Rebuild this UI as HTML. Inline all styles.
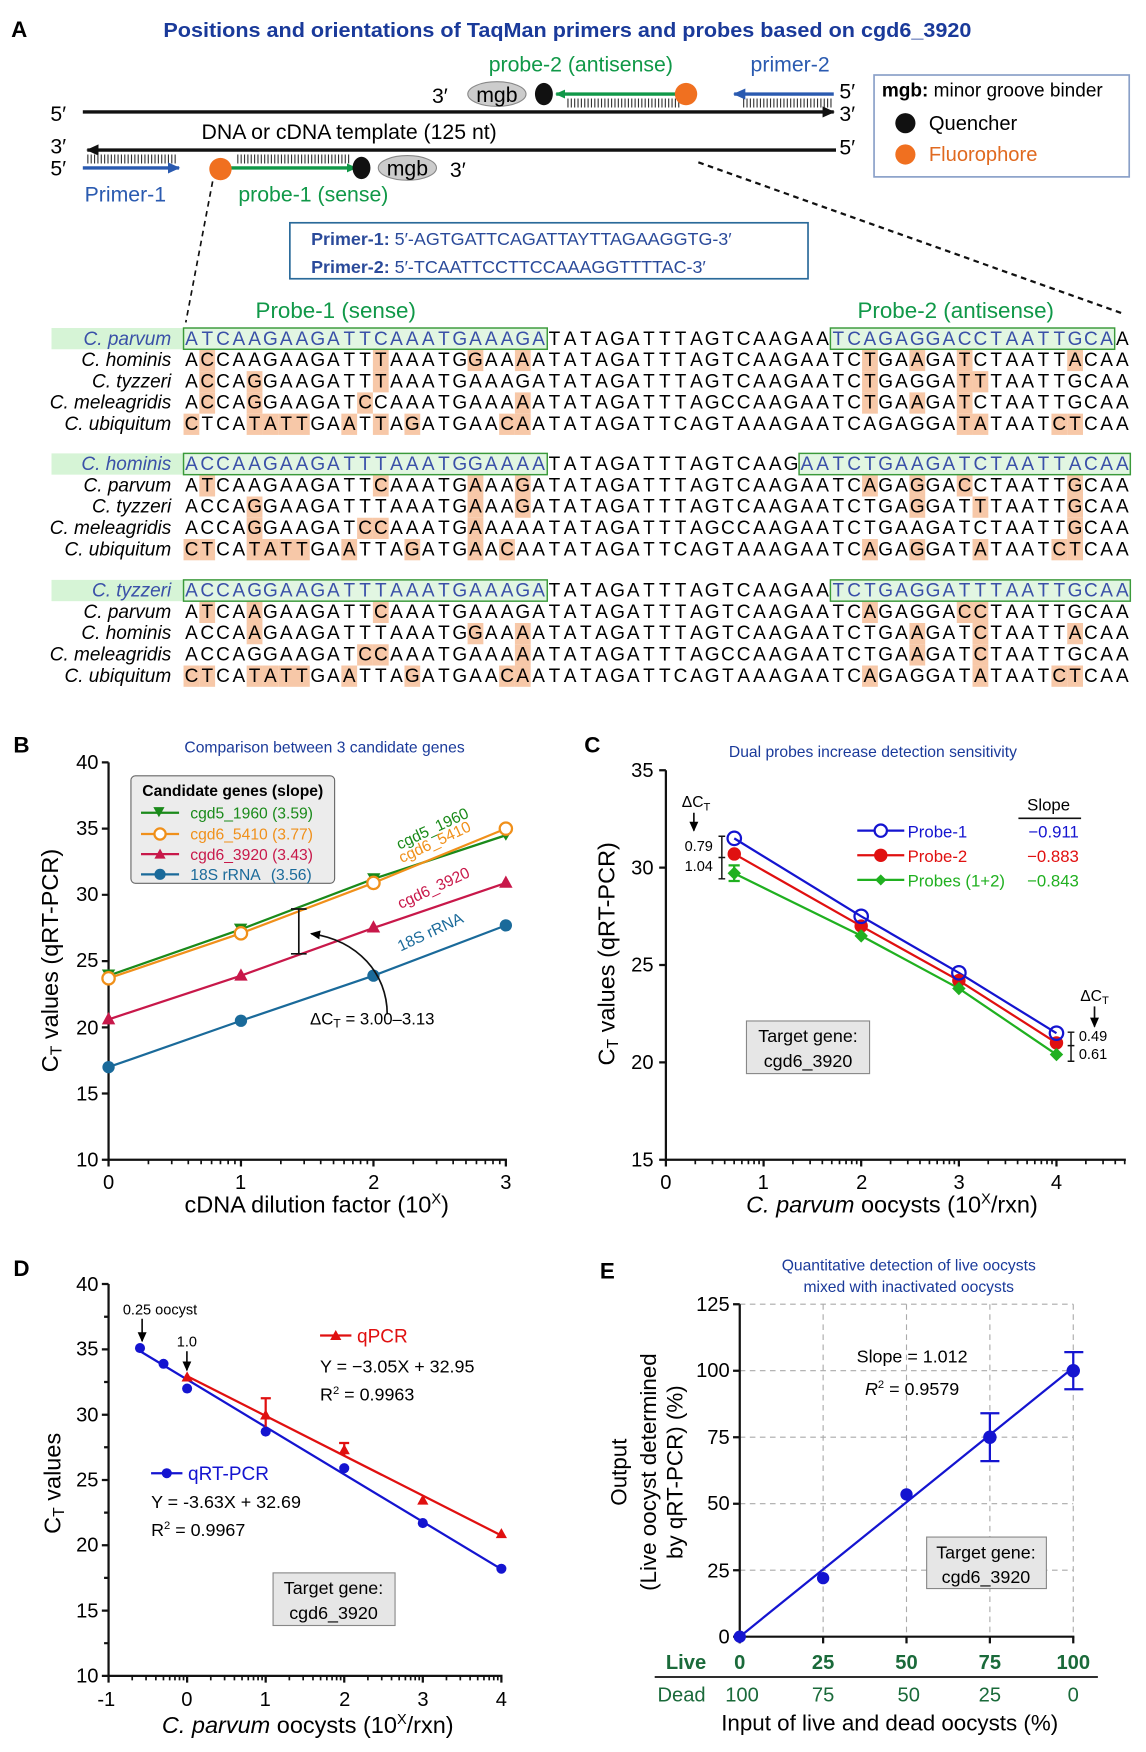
<!DOCTYPE html>
<html><head><meta charset="utf-8"><style>
html,body{margin:0;padding:0;background:#fff}
svg{display:block}
text{font-family:"Liberation Sans",sans-serif}
.seq{font-size:17px;text-anchor:middle}
.sp{font-size:17px;font-style:italic;text-anchor:end}
.tk{font-size:18px}
</style></head><body>
<svg id="s" width="1146" height="1752" viewBox="0 0 1024 1565" preserveAspectRatio="none" xmlns="http://www.w3.org/2000/svg">
<defs>
<marker id="ab" markerWidth="10" markerHeight="10" refX="8" refY="5" orient="auto" markerUnits="userSpaceOnUse"><path d="M0,1 L9,5 L0,9 z" fill="#000"/></marker>
<marker id="ag" markerWidth="10" markerHeight="10" refX="8" refY="5" orient="auto" markerUnits="userSpaceOnUse"><path d="M0,1 L9,5 L0,9 z" fill="#109848"/></marker>
<marker id="au" markerWidth="12" markerHeight="12" refX="10" refY="6" orient="auto" markerUnits="userSpaceOnUse"><path d="M0,1 L11,6 L0,11 z" fill="#2a5ab0"/></marker>
<marker id="ak" markerWidth="12" markerHeight="12" refX="10" refY="6" orient="auto" markerUnits="userSpaceOnUse"><path d="M0,1 L11,6 L0,11 z" fill="#111"/></marker>
</defs>

<!-- ===== Panel A ===== -->
<text x="10" y="33" font-size="20" font-weight="bold">A</text>
<text x="507" y="33" font-size="18" font-weight="bold" fill="#1a3a9a" text-anchor="middle" textLength="722" lengthAdjust="spacingAndGlyphs">Positions and orientations of TaqMan primers and probes based on cgd6_3920</text>

<text x="519" y="64" font-size="19" fill="#109848" text-anchor="middle">probe-2 (antisense)</text>
<text x="706" y="64" font-size="19" fill="#2a5ab0" text-anchor="middle">primer-2</text>

<line x1="74" y1="100" x2="745" y2="100" stroke="#111" stroke-width="3" marker-end="url(#ak)"/>
<line x1="747" y1="134" x2="78" y2="134" stroke="#111" stroke-width="3" marker-end="url(#ak)"/>
<text x="45" y="108" font-size="19">5′</text>
<text x="750" y="88" font-size="19">5′</text>
<text x="750" y="108" font-size="19">3′</text>
<text x="45" y="137" font-size="19">3′</text>
<text x="45" y="157" font-size="19">5′</text>
<text x="750" y="138" font-size="19">5′</text>
<text x="312" y="124" font-size="19" text-anchor="middle">DNA or cDNA template (125 nt)</text>

<line x1="507" y1="92" x2="607" y2="92" stroke="#333" stroke-width="8" stroke-dasharray="1 2"/>
<line x1="612" y1="84" x2="497" y2="84" stroke="#109848" stroke-width="3" marker-end="url(#ag)"/>
<ellipse cx="444" cy="84" rx="26" ry="11" fill="#ccc" stroke="#888"/>
<text x="444" y="91" font-size="19" text-anchor="middle">mgb</text>
<ellipse cx="486" cy="84" rx="8" ry="10" fill="#111"/>
<circle cx="613" cy="84" r="10" fill="#f07020"/>
<text x="386" y="92" font-size="19">3′</text>
<line x1="664" y1="92" x2="743" y2="92" stroke="#333" stroke-width="8" stroke-dasharray="1 2"/>
<line x1="745" y1="84" x2="656" y2="84" stroke="#2a5ab0" stroke-width="3" marker-end="url(#au)"/>

<line x1="212" y1="142" x2="312" y2="142" stroke="#333" stroke-width="8" stroke-dasharray="1 2"/>
<line x1="200" y1="150" x2="318" y2="150" stroke="#109848" stroke-width="3" marker-end="url(#ag)"/>
<ellipse cx="364" cy="150" rx="26" ry="11" fill="#ccc" stroke="#888"/>
<text x="364" y="157" font-size="19" text-anchor="middle">mgb</text>
<ellipse cx="323" cy="150" rx="8" ry="10" fill="#111"/>
<circle cx="197" cy="151" r="10" fill="#f07020"/>
<text x="402" y="158" font-size="19">3′</text>
<line x1="78" y1="142" x2="158" y2="142" stroke="#333" stroke-width="8" stroke-dasharray="1 2"/>
<line x1="74" y1="150" x2="160" y2="150" stroke="#2a5ab0" stroke-width="3" marker-end="url(#au)"/>
<text x="112" y="180" font-size="19" fill="#2a5ab0" text-anchor="middle">Primer-1</text>
<text x="280" y="180" font-size="19" fill="#109848" text-anchor="middle">probe-1 (sense)</text>

<rect x="781" y="67" width="228" height="91" fill="#fff" stroke="#8aa0c8" stroke-width="1.5"/>
<text x="788" y="86" font-size="17"><tspan font-weight="bold">mgb:</tspan> minor groove binder</text>
<circle cx="809" cy="110" r="9" fill="#111"/>
<text x="830" y="116" font-size="18">Quencher</text>
<circle cx="809" cy="138" r="9" fill="#f07020"/>
<text x="830" y="144" font-size="18" fill="#e06a20">Fluorophore</text>

<rect x="259" y="199" width="463" height="50" fill="#fff" stroke="#2a6a9a" stroke-width="1.5"/>
<text x="278" y="219" font-size="16" fill="#2a4a9a"><tspan font-weight="bold">Primer-1:</tspan> 5′-AGTGATTCAGATTAYTTAGAAGGTG-3′</text>
<text x="278" y="244" font-size="16" fill="#2a4a9a"><tspan font-weight="bold">Primer-2:</tspan> 5′-TCAATTCCTTCCAAAGGTTTTAC-3′</text>

<line x1="190" y1="162" x2="166" y2="288" stroke="#111" stroke-width="1.5" stroke-dasharray="5 4"/>
<line x1="624" y1="145" x2="1003" y2="280" stroke="#111" stroke-width="2" stroke-dasharray="5 4"/>

<text x="300" y="284" font-size="20" fill="#109848" text-anchor="middle">Probe-1 (sense)</text>
<text x="854" y="284" font-size="20" fill="#109848" text-anchor="middle">Probe-2 (antisense)</text>

<g id="hl"></g>
<g id="aln">
<rect x="46" y="293" width="118" height="19" fill="#d6f4d6"/>
<rect x="164" y="293" width="325" height="19" fill="#e2f6e2" stroke="#3a9a3a" stroke-width="1.3"/>
<rect x="742" y="293" width="254" height="19" fill="#e2f6e2" stroke="#3a9a3a" stroke-width="1.3"/>
<text class="sp" x="153" y="308" fill="#3a50a8">C. parvum</text>
<text class="seq" y="308"><tspan fill="#3a50a8">ATCAAGAAGATTCAAATGAAAGA</tspan>TATAGATTTAGTCAAGAA<tspan fill="#3a50a8">TCAGAGGACCTAATTGCA</tspan>A</text>
<text class="sp" x="153" y="327">C. hominis</text>
<text class="seq" y="327">ACCAAGAAGATTTAAATGGAAAATATAGATTTAGTCAAGAATCTGAAGATCTAATTACAA</text>
<text class="sp" x="153" y="346">C. tyzzeri</text>
<text class="seq" y="346">ACCAGGAAGATTTAAATGAAAGATATAGATTTAGTCAAGAATCTGAGGATTTAATTGCAA</text>
<text class="sp" x="153" y="365">C. meleagridis</text>
<text class="seq" y="365">ACCAGGAAGATCCAAATGAAAAATATAGATTTAGCCAAGAATCTGAAGATCTAATTGCAA</text>
<text class="sp" x="153" y="384">C. ubiquitum</text>
<text class="seq" y="384">CTCATATTGAATTAGATGAACAATATAGATTCAGTAAAGAATCAGAGGATATAATCTCAA</text>
<rect x="46" y="405" width="118" height="19" fill="#d6f4d6"/>
<rect x="164" y="405" width="325" height="19" fill="#e2f6e2" stroke="#3a9a3a" stroke-width="1.3"/>
<rect x="714" y="405" width="296" height="19" fill="#e2f6e2" stroke="#3a9a3a" stroke-width="1.3"/>
<text class="sp" x="153" y="420" fill="#3a50a8">C. hominis</text>
<text class="seq" y="420"><tspan fill="#3a50a8">ACCAAGAAGATTTAAATGGAAAA</tspan>TATAGATTTAGTCAAG<tspan fill="#3a50a8">AATCTGAAGATCTAATTACAA</tspan></text>
<text class="sp" x="153" y="439">C. parvum</text>
<text class="seq" y="439">ATCAAGAAGATTCAAATGAAAGATATAGATTTAGTCAAGAATCAGAGGACCTAATTGCAA</text>
<text class="sp" x="153" y="458">C. tyzzeri</text>
<text class="seq" y="458">ACCAGGAAGATTTAAATGAAAGATATAGATTTAGTCAAGAATCTGAGGATTTAATTGCAA</text>
<text class="sp" x="153" y="477">C. meleagridis</text>
<text class="seq" y="477">ACCAGGAAGATCCAAATGAAAAATATAGATTTAGCCAAGAATCTGAAGATCTAATTGCAA</text>
<text class="sp" x="153" y="496">C. ubiquitum</text>
<text class="seq" y="496">CTCATATTGAATTAGATGAACAATATAGATTCAGTAAAGAATCAGAGGATATAATCTCAA</text>
<rect x="46" y="518" width="118" height="19" fill="#d6f4d6"/>
<rect x="164" y="518" width="325" height="19" fill="#e2f6e2" stroke="#3a9a3a" stroke-width="1.3"/>
<rect x="742" y="518" width="268" height="19" fill="#e2f6e2" stroke="#3a9a3a" stroke-width="1.3"/>
<text class="sp" x="153" y="533" fill="#3a50a8">C. tyzzeri</text>
<text class="seq" y="533"><tspan fill="#3a50a8">ACCAGGAAGATTTAAATGAAAGA</tspan>TATAGATTTAGTCAAGAA<tspan fill="#3a50a8">TCTGAGGATTTAATTGCAA</tspan></text>
<text class="sp" x="153" y="552">C. parvum</text>
<text class="seq" y="552">ATCAAGAAGATTCAAATGAAAGATATAGATTTAGTCAAGAATCAGAGGACCTAATTGCAA</text>
<text class="sp" x="153" y="571">C. hominis</text>
<text class="seq" y="571">ACCAAGAAGATTTAAATGGAAAATATAGATTTAGTCAAGAATCTGAAGATCTAATTACAA</text>
<text class="sp" x="153" y="590">C. meleagridis</text>
<text class="seq" y="590">ACCAGGAAGATCCAAATGAAAAATATAGATTTAGCCAAGAATCTGAAGATCTAATTGCAA</text>
<text class="sp" x="153" y="609">C. ubiquitum</text>
<text class="seq" y="609">CTCATATTGAATTAGATGAACAATATAGATTCAGTAAAGAATCAGAGGATATAATCTCAA</text>
</g>

<!-- ===== Panel B ===== -->
<text x="12" y="672" font-size="20" font-weight="bold">B</text>
<text x="290" y="672" font-size="14" fill="#1a3a9a" text-anchor="middle">Comparison between 3 candidate genes</text>
<g stroke="#111" stroke-width="2" fill="none">
<path d="M97,681 V1036 H453"/>
<path d="M97,681h-6M97,740.2h-6M97,799.3h-6M97,858.5h-6M97,917.7h-6M97,976.8h-6M97,1036h-6"/>
<path d="M97,1036v6M215.3,1036v6M333.7,1036v6M452,1036v6"/>
</g>
<g id="bminor" stroke="#111" stroke-width="1.5"></g>
<g class="tk" text-anchor="end">
<text x="88" y="687">40</text><text x="88" y="746">35</text><text x="88" y="805">30</text><text x="88" y="864">25</text><text x="88" y="924">20</text><text x="88" y="983">15</text><text x="88" y="1042">10</text>
</g>
<g class="tk" text-anchor="middle">
<text x="97" y="1062">0</text><text x="215" y="1062">1</text><text x="334" y="1062">2</text><text x="452" y="1062">3</text>
</g>
<text transform="translate(52,858) rotate(-90)" font-size="21" text-anchor="middle">C<tspan font-size="14" dy="3">T</tspan><tspan dy="-3"> values (qRT-PCR)</tspan></text>
<text x="283" y="1083" font-size="21" text-anchor="middle">cDNA dilution factor (10<tspan font-size="13" dy="-8">X</tspan><tspan dy="8">)</tspan></text>

<polyline points="97,871.5 215.3,830.1 333.7,785.1 452,746.1" fill="none" stroke="#1a8a1a" stroke-width="2"/>
<polyline points="97,873.9 215.3,833.7 333.7,788.7 452,740.2" fill="none" stroke="#f0901a" stroke-width="2"/>
<polyline points="97,910.6 215.3,871.5 333.7,828.9 452,788.7" fill="none" stroke="#c8184a" stroke-width="2"/>
<polyline points="97,953.2 215.3,911.8 333.7,871.5 452,826.6" fill="none" stroke="#1a6a9a" stroke-width="2"/>
<g fill="#1a8a1a"><path d="M91,866h12l-6,10z"/><path d="M209,825h12l-6,10z"/><path d="M328,780h12l-6,10z"/><path d="M446,741h12l-6,10z"/></g>
<g fill="#fff" stroke="#f0901a" stroke-width="2"><circle cx="97" cy="873.9" r="5.5"/><circle cx="215.3" cy="833.7" r="5.5"/><circle cx="333.7" cy="788.7" r="5.5"/><circle cx="452" cy="740.2" r="5.5"/></g>
<g fill="#c8184a"><path d="M97,904l6,11h-12z"/><path d="M215.3,865l6,11h-12z"/><path d="M333.7,822l6,11h-12z"/><path d="M452,782l6,11h-12z"/></g>
<g fill="#1a6a9a"><circle cx="97" cy="953.2" r="5.5"/><circle cx="215.3" cy="911.8" r="5.5"/><circle cx="333.7" cy="871.5" r="5.5"/><circle cx="452" cy="826.6" r="5.5"/></g>

<g font-size="14">
<text transform="translate(357,759) rotate(-25)" fill="#1a8a1a">cgd5_1960</text>
<text transform="translate(359,771) rotate(-25)" fill="#f0901a">cgd6_5410</text>
<text transform="translate(358,812) rotate(-25)" fill="#c8184a">cgd6_3920</text>
<text transform="translate(358,850) rotate(-25)" fill="#1a6a9a">18S rRNA</text>
</g>
<path d="M260,812h14M267,812V852M260,852h14" stroke="#111" stroke-width="1.5" fill="none"/>
<path d="M346,906 C346,870 320,840 278,834" stroke="#111" stroke-width="1.5" fill="none" marker-end="url(#ab)"/>
<text x="277" y="915" font-size="15">ΔC<tspan font-size="11" dy="3">T</tspan><tspan dy="-3"> = 3.00–3.13</tspan></text>

<rect x="117" y="693" width="182" height="96" rx="4" fill="#ececec" stroke="#666"/>
<text x="208" y="711" font-size="14" font-weight="bold" text-anchor="middle">Candidate genes (slope)</text>
<line x1="126" y1="726" x2="160" y2="726" stroke="#1a8a1a" stroke-width="2"/><path d="M137,721h10l-5,9z" fill="#1a8a1a"/>
<text x="170" y="731" font-size="14" fill="#1a8a1a">cgd5_1960 (3.59)</text>
<line x1="126" y1="745" x2="160" y2="745" stroke="#f0901a" stroke-width="2"/><circle cx="143" cy="745" r="5" fill="#fff" stroke="#f0901a" stroke-width="2"/>
<text x="170" y="750" font-size="14" fill="#f0901a">cgd6_5410 (3.77)</text>
<line x1="126" y1="763" x2="160" y2="763" stroke="#c8184a" stroke-width="2"/><path d="M143,758l5,9h-10z" fill="#c8184a"/>
<text x="170" y="768" font-size="14" fill="#c8184a">cgd6_3920 (3.43)</text>
<line x1="126" y1="781" x2="160" y2="781" stroke="#1a6a9a" stroke-width="2"/><circle cx="143" cy="781" r="5" fill="#1a6a9a"/>
<text x="170" y="786" font-size="14" fill="#1a6a9a">18S rRNA<tspan x="242">(3.56)</tspan></text>

<!-- ===== Panel C ===== -->
<text x="522" y="672" font-size="20" font-weight="bold">C</text>
<text x="780" y="676" font-size="14" fill="#1a3a9a" text-anchor="middle">Dual probes increase detection sensitivity</text>
<g stroke="#111" stroke-width="2" fill="none">
<path d="M595,688 V1036 H1006"/>
<path d="M595,688h-6M595,775h-6M595,862h-6M595,949h-6M595,1036h-6"/>
<path d="M595,1036v6M682.3,1036v6M769.5,1036v6M856.8,1036v6M944,1036v6"/>
</g>
<g id="cminor" stroke="#111" stroke-width="1.5"></g>
<g class="tk" text-anchor="end">
<text x="584" y="694">35</text><text x="584" y="781">30</text><text x="584" y="868">25</text><text x="584" y="955">20</text><text x="584" y="1042">15</text>
</g>
<g class="tk" text-anchor="middle">
<text x="595" y="1062">0</text><text x="682" y="1062">1</text><text x="770" y="1062">2</text><text x="857" y="1062">3</text><text x="944" y="1062">4</text>
</g>
<text transform="translate(549,852) rotate(-90)" font-size="21" text-anchor="middle">C<tspan font-size="14" dy="3">T</tspan><tspan dy="-3"> values (qRT-PCR)</tspan></text>
<text x="797" y="1083" font-size="21" text-anchor="middle"><tspan font-style="italic">C. parvum</tspan> oocysts (10<tspan font-size="13" dy="-8">X</tspan><tspan dy="8">/rxn)</tspan></text>

<polyline points="656.1,748.9 769.5,818.5 856.8,869 944,922.9" fill="none" stroke="#1414d0" stroke-width="2"/>
<polyline points="656.1,762.8 769.5,827.2 856.8,875.9 944,931.6" fill="none" stroke="#e01010" stroke-width="2"/>
<polyline points="656.1,780.2 769.5,835.9 856.8,882.9 944,942" fill="none" stroke="#20b020" stroke-width="2"/>
<g fill="#e01010"><circle cx="656.1" cy="762.8" r="6"/><circle cx="769.5" cy="827.2" r="6"/><circle cx="856.8" cy="875.9" r="6"/><circle cx="944" cy="931.6" r="6"/></g>
<g fill="none" stroke="#1414d0" stroke-width="2"><circle cx="656.1" cy="748.9" r="6"/><circle cx="769.5" cy="818.5" r="6"/><circle cx="856.8" cy="869" r="6"/><circle cx="944" cy="922.9" r="6"/></g>
<path d="M651,773h10M656,773v14M651,787h10" stroke="#20b020" stroke-width="2" fill="none"/>
<g fill="#20b020"><path d="M656.1,774l6,6l-6,6l-6,-6z"/><path d="M769.5,830l6,6l-6,6l-6,-6z"/><path d="M856.8,877l6,6l-6,6l-6,-6z"/><path d="M944,936l6,6l-6,6l-6,-6z"/></g>

<text x="622" y="721" font-size="14" text-anchor="middle">ΔC<tspan font-size="10" dy="3">T</tspan></text>
<line x1="620" y1="726" x2="620" y2="742" stroke="#111" stroke-width="1.5" marker-end="url(#ab)"/>
<path d="M642,747h6M645,747V785M642,766h6M642,785h6" stroke="#111" stroke-width="1.3" fill="none"/>
<text x="637" y="760" font-size="13" text-anchor="end">0.79</text>
<text x="637" y="778" font-size="13" text-anchor="end">1.04</text>
<text x="978" y="894" font-size="14" text-anchor="middle">ΔC<tspan font-size="10" dy="3">T</tspan></text>
<line x1="978" y1="899" x2="978" y2="917" stroke="#111" stroke-width="1.5" marker-end="url(#ab)"/>
<path d="M954,922h6M957,922V948M954,934h6M954,948h6" stroke="#111" stroke-width="1.3" fill="none"/>
<text x="964" y="930" font-size="13">0.49</text>
<text x="964" y="946" font-size="13">0.61</text>

<text x="937" y="724" font-size="15" text-anchor="middle">Slope</text>
<line x1="910" y1="731" x2="966" y2="731" stroke="#111" stroke-width="1.5"/>
<line x1="766" y1="742" x2="808" y2="742" stroke="#1414d0" stroke-width="2"/><circle cx="787" cy="742" r="5.5" fill="#fff" stroke="#1414d0" stroke-width="2"/>
<text x="811" y="748" font-size="15" fill="#1414d0">Probe-1</text><text x="964" y="748" font-size="15" fill="#1414d0" text-anchor="end">−0.911</text>
<line x1="766" y1="764" x2="808" y2="764" stroke="#e01010" stroke-width="2"/><circle cx="787" cy="764" r="6" fill="#e01010"/>
<text x="811" y="770" font-size="15" fill="#e01010">Probe-2</text><text x="964" y="770" font-size="15" fill="#e01010" text-anchor="end">−0.883</text>
<line x1="766" y1="786" x2="808" y2="786" stroke="#20b020" stroke-width="2"/><path d="M787,781l5,5l-5,5l-5,-5z" fill="#20b020"/>
<text x="811" y="792" font-size="15" fill="#20b020">Probes (1+2)</text><text x="964" y="792" font-size="15" fill="#20b020" text-anchor="end">−0.843</text>

<rect x="667" y="912" width="110" height="47" fill="#e6e6e6" stroke="#888"/>
<text x="722" y="931" font-size="16" text-anchor="middle">Target gene:</text>
<text x="722" y="953" font-size="16" text-anchor="middle">cgd6_3920</text>

<!-- ===== Panel D ===== -->
<text x="12" y="1140" font-size="20" font-weight="bold">D</text>
<g stroke="#111" stroke-width="2" fill="none">
<path d="M97,1147 V1497 H449"/>
<path d="M97,1147h-6M97,1205.3h-6M97,1263.7h-6M97,1322h-6M97,1380.3h-6M97,1438.7h-6M97,1497h-6"/>
<path d="M97,1176.2h-4M97,1234.5h-4M97,1292.8h-4M97,1351.2h-4M97,1409.5h-4M97,1467.8h-4"/>
<path d="M97,1497v6M167.2,1497v6M237.4,1497v6M307.6,1497v6M377.8,1497v6M448,1497v6"/>
</g>
<g id="dminor" stroke="#111" stroke-width="1.5"></g>
<g class="tk" text-anchor="end">
<text x="88" y="1153">40</text><text x="88" y="1211">35</text><text x="88" y="1270">30</text><text x="88" y="1328">25</text><text x="88" y="1386">20</text><text x="88" y="1445">15</text><text x="88" y="1503">10</text>
</g>
<g class="tk" text-anchor="middle">
<text x="95" y="1524">-1</text><text x="167" y="1524">0</text><text x="237" y="1524">1</text><text x="308" y="1524">2</text><text x="378" y="1524">3</text><text x="448" y="1524">4</text>
</g>
<text transform="translate(54,1325) rotate(-90)" font-size="21" text-anchor="middle">C<tspan font-size="14" dy="3">T</tspan><tspan dy="-3"> values</tspan></text>
<text x="275" y="1548" font-size="21" text-anchor="middle"><tspan font-style="italic">C. parvum</tspan> oocysts (10<tspan font-size="13" dy="-8">X</tspan><tspan dy="8">/rxn)</tspan></text>

<line x1="125.1" y1="1206.9" x2="448" y2="1401.7" stroke="#1414d0" stroke-width="2"/>
<line x1="167.2" y1="1229.2" x2="448" y2="1371.6" stroke="#e01010" stroke-width="2"/>
<path d="M233,1249h9M237.4,1249V1275M303,1289h9M307.6,1289V1300" stroke="#e01010" stroke-width="2" fill="none"/>
<g fill="#e01010"><path d="M167.2,1225l5,9h-10z"/><path d="M237.4,1259l5,9h-10z"/><path d="M307.6,1290l5,9h-10z"/><path d="M377.8,1335l5,9h-10z"/><path d="M448,1365l5,9h-10z"/></g>
<g fill="#1414d0"><circle cx="125.1" cy="1204.2" r="4.5"/><circle cx="146.1" cy="1218.2" r="4.5"/><circle cx="167.2" cy="1240.3" r="4.5"/><circle cx="237.4" cy="1278.8" r="4.5"/><circle cx="307.6" cy="1311.5" r="4.5"/><circle cx="377.8" cy="1360.5" r="4.5"/><circle cx="448" cy="1401.3" r="4.5"/></g>

<text x="143" y="1174" font-size="13" text-anchor="middle">0.25 oocyst</text>
<line x1="127" y1="1178" x2="127" y2="1198" stroke="#111" stroke-width="1.5" marker-end="url(#ab)"/>
<text x="167" y="1203" font-size="13" text-anchor="middle">1.0</text>
<line x1="167" y1="1207" x2="167" y2="1224" stroke="#111" stroke-width="1.5" marker-end="url(#ab)"/>

<line x1="286" y1="1193" x2="314" y2="1193" stroke="#e01010" stroke-width="2"/><path d="M300,1188l5,9h-10z" fill="#e01010"/>
<text x="319" y="1199" font-size="17" fill="#e01010">qPCR</text>
<text x="286" y="1226" font-size="16">Y = −3.05X + 32.95</text>
<text x="286" y="1251" font-size="16">R<tspan font-size="10" dy="-6">2</tspan><tspan dy="6"> = 0.9963</tspan></text>
<line x1="135" y1="1316" x2="163" y2="1316" stroke="#1414d0" stroke-width="2"/><circle cx="149" cy="1316" r="4.5" fill="#1414d0"/>
<text x="168" y="1322" font-size="17" fill="#1414d0">qRT-PCR</text>
<text x="135" y="1347" font-size="16">Y = -3.63X + 32.69</text>
<text x="135" y="1372" font-size="16">R<tspan font-size="10" dy="-6">2</tspan><tspan dy="6"> = 0.9967</tspan></text>
<rect x="244" y="1405" width="109" height="47" fill="#e6e6e6" stroke="#888"/>
<text x="298" y="1424" font-size="16" text-anchor="middle">Target gene:</text>
<text x="298" y="1446" font-size="16" text-anchor="middle">cgd6_3920</text>

<!-- ===== Panel E ===== -->
<text x="536" y="1142" font-size="20" font-weight="bold">E</text>
<text x="812" y="1135" font-size="14" fill="#1a3a9a" text-anchor="middle">Quantitative detection of live oocysts</text>
<text x="812" y="1154" font-size="14" fill="#1a3a9a" text-anchor="middle">mixed with inactivated oocysts</text>
<g stroke="#aaa" stroke-width="1" stroke-dasharray="5 4" fill="none">
<path d="M661,1165H959M661,1224.4H959M661,1283.8H959M661,1343.2H959M661,1402.6H959"/>
<path d="M735.5,1165V1462M810,1165V1462M884.5,1165V1462M959,1165V1462"/>
</g>
<g stroke="#111" stroke-width="2" fill="none">
<path d="M661,1165 V1462 H960"/>
<path d="M661,1165h-6M661,1224.4h-6M661,1283.8h-6M661,1343.2h-6M661,1402.6h-6M661,1462h-6"/>
<path d="M661,1462v6M735.5,1462v6M810,1462v6M884.5,1462v6M959,1462v6"/>
</g>
<g class="tk" text-anchor="end">
<text x="652" y="1171">125</text><text x="652" y="1230">100</text><text x="652" y="1290">75</text><text x="652" y="1349">50</text><text x="652" y="1409">25</text><text x="652" y="1468">0</text>
</g>
<text transform="translate(560,1315) rotate(-90)" font-size="20" text-anchor="middle">Output</text>
<text transform="translate(586,1315) rotate(-90)" font-size="20" text-anchor="middle">(Live oocyst determined</text>
<text transform="translate(610,1315) rotate(-90)" font-size="20" text-anchor="middle">by qRT-PCR) (%)</text>
<line x1="661" y1="1462" x2="959" y2="1221.6" stroke="#1414d0" stroke-width="2"/>
<path d="M876,1262.4h17M884.5,1262.4V1305.2M876,1305.2h17M951,1207.8h17M959,1207.8V1241M951,1241h17" stroke="#1414d0" stroke-width="2" fill="none"/>
<g fill="#1414d0"><circle cx="661" cy="1462" r="5.5"/><circle cx="735.5" cy="1409.7" r="5.5"/><circle cx="810" cy="1334.9" r="5.5"/><circle cx="884.5" cy="1283.8" r="6"/><circle cx="959" cy="1224.4" r="6"/></g>
<text x="815" y="1217" font-size="16" text-anchor="middle">Slope = 1.012</text>
<text x="815" y="1246" font-size="16" text-anchor="middle"><tspan font-style="italic">R</tspan><tspan font-size="10" dy="-6">2</tspan><tspan dy="6"> = 0.9579</tspan></text>
<rect x="828" y="1373" width="107" height="46" fill="#e6e6e6" stroke="#888"/>
<text x="881" y="1392" font-size="16" text-anchor="middle">Target gene:</text>
<text x="881" y="1414" font-size="16" text-anchor="middle">cgd6_3920</text>
<g fill="#1a6a3a" font-size="18" text-anchor="middle">
<text x="613" y="1491" font-weight="bold">Live</text>
<g font-weight="bold"><text x="661" y="1491">0</text><text x="735.5" y="1491">25</text><text x="810" y="1491">50</text><text x="884.5" y="1491">75</text><text x="959" y="1491">100</text></g>
<text x="609" y="1520">Dead</text>
<text x="663" y="1520">100</text><text x="735.5" y="1520">75</text><text x="812" y="1520">50</text><text x="884.5" y="1520">25</text><text x="959" y="1520">0</text>
</g>
<line x1="585" y1="1498" x2="981" y2="1498" stroke="#111" stroke-width="1.5"/>
<text x="795" y="1546" font-size="20" text-anchor="middle">Input of live and dead oocysts (%)</text>
</svg>
<script>
(function(){
var NS="http://www.w3.org/2000/svg",W=14.1,X0=164;
var seqs=document.querySelectorAll("text.seq");
seqs.forEach(function(t){var n=t.textContent.length,xs=[];for(var i=0;i<n;i++)xs.push((X0+W*i+W/2).toFixed(1));t.setAttribute("x",xs.join(" "));});
var hl=document.getElementById("hl");
var p2=[41,39,41];
for(var b=0;b<3;b++){
 var ref=seqs[b*5].textContent;
 for(var r=1;r<5;r++){
  var t=seqs[b*5+r],s=t.textContent,y=+t.getAttribute("y");
  for(var i=0;i<s.length;i++){
   if(!((i<=22)||(i>=p2[b]))) continue;
   if(s[i]!==ref[i]){var e=document.createElementNS(NS,"rect");e.setAttribute("x",X0+W*i);e.setAttribute("y",y-14.5);e.setAttribute("width",W);e.setAttribute("height",19);e.setAttribute("fill","#f7c8a8");hl.appendChild(e);}
  }
 }
}
function logt(id,x0,unit,from,to,y,len){var g=document.getElementById(id);for(var d=from;d<to;d++){for(var k=2;k<10;k++){var v=d+Math.log10(k);if(v>to)continue;var x=x0+unit*v;var l=document.createElementNS(NS,"line");l.setAttribute("x1",x);l.setAttribute("x2",x);l.setAttribute("y1",y);l.setAttribute("y2",y+len);g.appendChild(l);}}}
logt("bminor",97,118.33,0,3,1036,4);
logt("cminor",595,87.25,0,4.7,1036,4);
logt("dminor",167.2,70.2,-1,4,1497,4);
})();
</script>
</body></html>
